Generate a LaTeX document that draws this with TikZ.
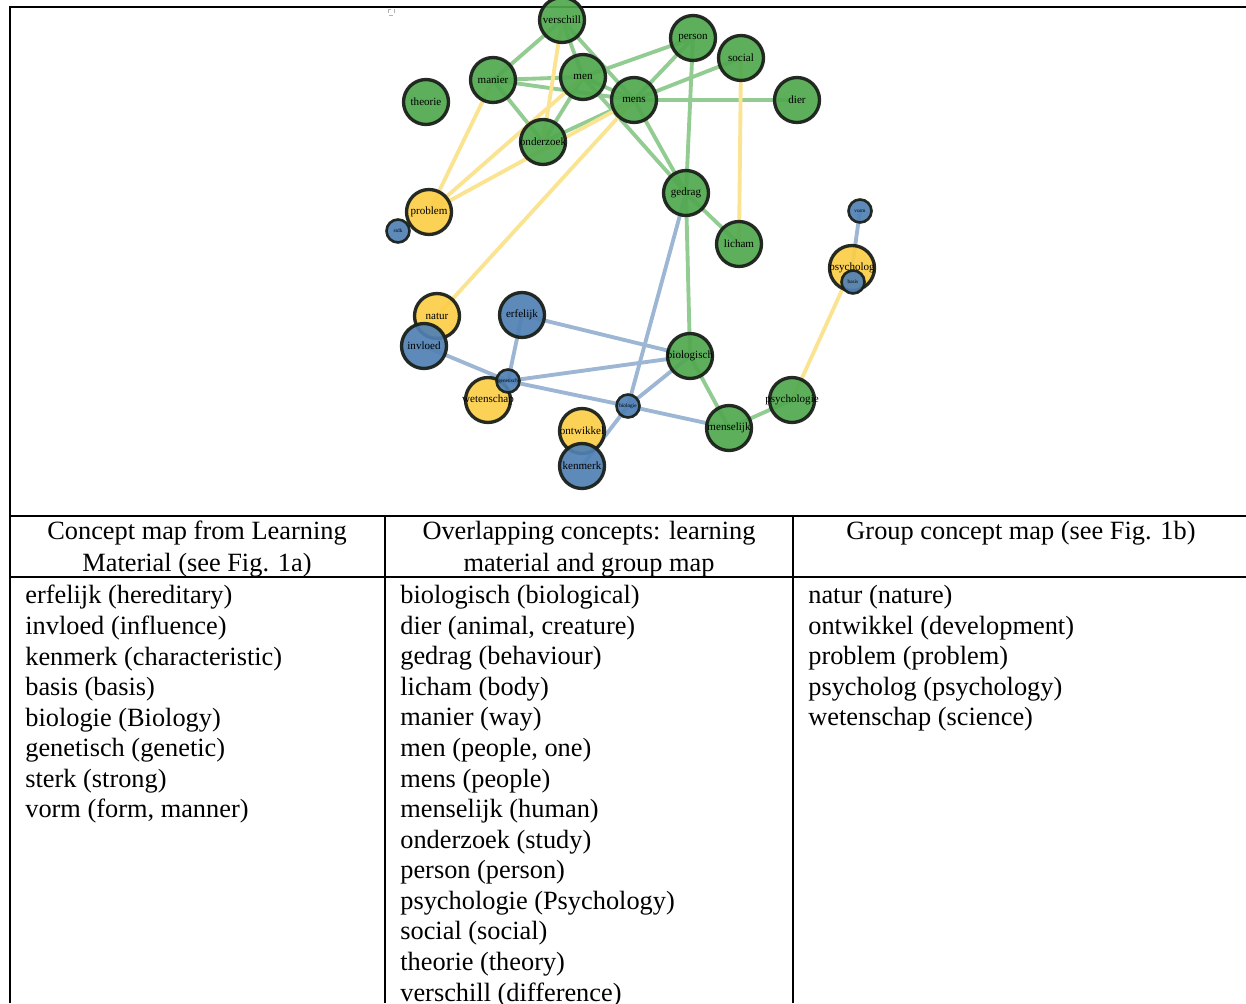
\documentclass[tikz,border=0pt]{standalone}
\usepackage{fontspec}
\setmainfont{Liberation Serif}
\usetikzlibrary{backgrounds}

\definecolor{gfill}{RGB}{80,168,78}
\definecolor{yfill}{RGB}{252,206,72}
\definecolor{bfill}{RGB}{80,128,180}
\definecolor{gline}{RGB}{146,204,146}
\definecolor{yline}{RGB}{250,228,146}
\definecolor{bline}{RGB}{156,182,212}
\definecolor{rim}{RGB}{26,32,26}

\tikzset{
  concept/.style={circle, draw=rim, line width=1.9pt, minimum size=0.9cm,
    inner sep=0pt, fill opacity=0.92, draw opacity=0.95},
  gconcept/.style={concept, fill=gfill},
  yconcept/.style={concept, fill=yfill},
  bconcept/.style={concept, fill=bfill},
  small/.style={minimum size=0.46cm, line width=1.5pt},
  every label/.style={font=\fontsize{6.3}{6.3}\selectfont, inner sep=0pt, text=black},
  tinytext/.style={font=\fontsize{3}{3}\selectfont},
  glink/.style={line width=2.2pt, draw=gline},
  ylink/.style={line width=2.2pt, draw=yline},
  blink/.style={line width=2.2pt, draw=bline},
  rule/.style={line width=1.1pt},
  head/.style={font=\fontsize{15}{18.2}\selectfont, align=center, inner sep=0pt},
  cell/.style={font=\fontsize{15}{17.4}\selectfont, align=left, inner sep=0pt, anchor=north west}
}

\begin{document}
\begin{tikzpicture}[x=0.02cm, y=-0.02cm]
  \useasboundingbox (0,0) rectangle (1246,1003);

  % table frame
  \draw[rule] (10,1003) -- (10,7) -- (1246,7);
  \draw[rule] (10,516) -- (1246,516);
  \draw[rule] (10,577) -- (1246,577);
  \draw[rule] (385,516) -- (385,1003);
  \draw[rule] (793,516) -- (793,1003);
  \draw[gray!60, line width=0.4pt, dash pattern=on 2pt off 2pt] (388,9) rectangle (394,15);

  % concepts in both maps
  \node[gconcept, label={center:verschill}] (verschill) at (562,20) {};
  \node[gconcept, label={center:person}] (person) at (693,38) {};
  \node[gconcept, label={center:social}] (social) at (741,58) {};
  \node[gconcept, label={center:manier}] (manier) at (493,80) {};
  \node[gconcept, label={center:men}] (men) at (583,77) {};
  \node[gconcept, label={center:mens}] (mens) at (634,100) {};
  \node[gconcept, label={center:dier}] (dier) at (797,100) {};
  \node[gconcept, label={center:theorie}] (theorie) at (426,102) {};
  \node[gconcept, label={center:onderzoek}] (onderzoek) at (543,142) {};
  \node[gconcept, label={center:gedrag}] (gedrag) at (686,193) {};
  \node[gconcept, label={center:licham}] (licham) at (739,244) {};
  \node[gconcept, label={center:biologisch}] (biologisch) at (690,356) {};
  \node[gconcept, label={center:menselijk}] (menselijk) at (729,428) {};
  \node[gconcept, label={center:psychologie}] (psychologie) at (792,400) {};

  % group map only
  \node[yconcept, label={center:problem}] (problem) at (429,212) {};
  \node[yconcept, label={center:natur}] (natur) at (437,316) {};
  \node[yconcept, label={center:wetenschap}] (wetenschap) at (488,400) {};
  \node[yconcept, label={center:ontwikkel}] (ontwikkel) at (582,431) {};
  \node[yconcept, label={center:psycholog}] (psycholog) at (852,268) {};

  % learning material only
  \node[bconcept, small, label={[tinytext]center:stdk}] (sterk) at (398,231) {};
  \node[bconcept, small, label={[tinytext]center:vorm}] (vorm) at (860,211) {};
  \node[bconcept, small, label={[tinytext]center:basis}] (basis) at (853,282) {};
  \node[bconcept, label={center:erfelijk}] (erfelijk) at (522,315) {};
  \node[bconcept, label={center:invloed}] (invloed) at (424,346) {};
  \node[bconcept, small, label={[tinytext]center:genetisch}] (genetisch) at (508,381) {};
  \node[bconcept, small, label={[tinytext]center:biologie}] (biologie) at (628,406) {};
  \node[bconcept, label={center:kenmerk}] (kenmerk) at (582,466) {};

  \begin{pgfonlayer}{background}
    \draw[glink] (verschill.center) -- (manier.center);
    \draw[glink] (verschill.center) -- (men.center);
    \draw[glink] (verschill.center) -- (mens.center);
    \draw[glink] (manier.center) -- (men.center);
    \draw[glink] (manier.center) -- (mens.center);
    \draw[glink] (manier.center) -- (onderzoek.center);
    \draw[glink] (men.center) -- (mens.center);
    \draw[glink] (men.center) -- (onderzoek.center);
    \draw[glink] (men.center) -- (person.center);
    \draw[glink] (men.center) -- (gedrag.center);
    \draw[glink] (mens.center) -- (person.center);
    \draw[glink] (mens.center) -- (social.center);
    \draw[glink] (mens.center) -- (dier.center);
    \draw[glink] (mens.center) -- (onderzoek.center);
    \draw[glink] (mens.center) -- (gedrag.center);
    \draw[glink] (person.center) -- (gedrag.center);
    \draw[glink] (gedrag.center) -- (licham.center);
    \draw[glink] (gedrag.center) -- (biologisch.center);
    \draw[glink] (biologisch.center) -- (menselijk.center);
    \draw[glink] (menselijk.center) -- (psychologie.center);

    \draw[ylink] (verschill.center) -- (onderzoek.center);
    \draw[ylink] (problem.center) -- (manier.center);
    \draw[ylink] (problem.center) -- (men.center);
    \draw[ylink] (problem.center) -- (mens.center);
    \draw[ylink] (natur.center) -- (mens.center);
    \draw[ylink] (social.center) -- (licham.center);
    \draw[ylink] (psycholog.center) -- (psychologie.center);

    \draw[blink] (vorm.center) -- (psycholog.center);
    \draw[blink] (erfelijk.center) -- (genetisch.center);
    \draw[blink] (erfelijk.center) -- (biologisch.center);
    \draw[blink] (invloed.center) -- (genetisch.center);
    \draw[blink] (genetisch.center) -- (biologisch.center);
    \draw[blink] (genetisch.center) -- (biologie.center);
    \draw[blink] (biologie.center) -- (biologisch.center);
    \draw[blink] (biologie.center) -- (gedrag.center);
    \draw[blink] (biologie.center) -- (menselijk.center);
    \draw[blink] (biologie.center) -- (kenmerk.center);
  \end{pgfonlayer}

  % table text
  \node[head] (lmhead) at (197,549) {Concept map from Learning\\Material (see Fig. 1a)};
  \node[head] (bothhead) at (589,549) {Overlapping concepts: learning\\material and group map};
  \node[head] (grouphead) at (1021,533) {Group concept map (see Fig. 1b)};

  \node[cell] (lmlist) at (25,585) {erfelijk (hereditary)\\invloed (influence)\\kenmerk (characteristic)\\basis (basis)\\biologie (Biology)\\genetisch (genetic)\\sterk (strong)\\vorm (form, manner)};
  \node[cell] (bothlist) at (400,585) {biologisch (biological)\\dier (animal, creature)\\gedrag (behaviour)\\licham (body)\\manier (way)\\men (people, one)\\mens (people)\\menselijk (human)\\onderzoek (study)\\person (person)\\psychologie (Psychology)\\social (social)\\theorie (theory)\\verschill (difference)};
  \node[cell] (grouplist) at (808,585) {natur (nature)\\ontwikkel (development)\\problem (problem)\\psycholog (psychology)\\wetenschap (science)};
\end{tikzpicture}
\end{document}
